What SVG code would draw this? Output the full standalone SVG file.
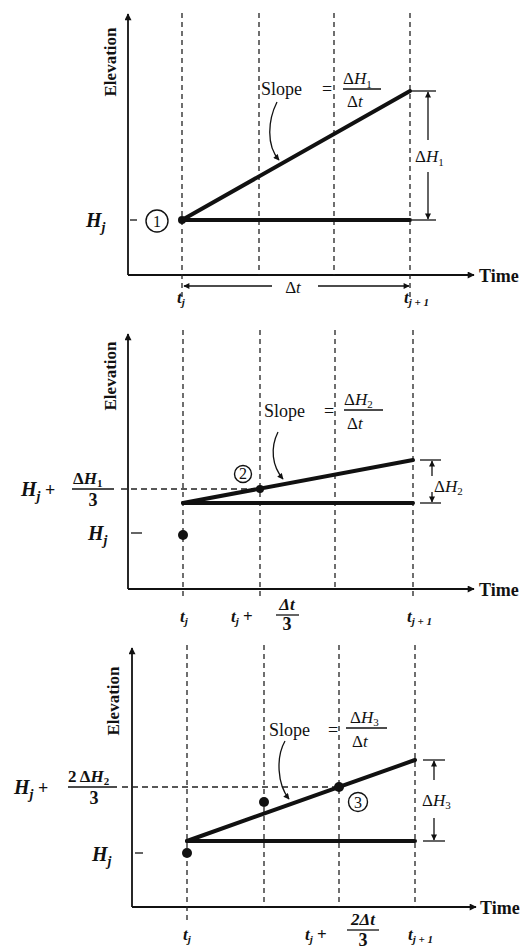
<svg xmlns="http://www.w3.org/2000/svg" width="526" height="951" viewBox="0 0 526 951">
<style>
.ax{stroke:#111;stroke-width:1.8;fill:none}
.dv{stroke:#222;stroke-width:1.3;stroke-dasharray:5,4;fill:none}
.dh{stroke:#222;stroke-width:1.3;stroke-dasharray:6,4;fill:none}
.thk{stroke:#111;stroke-width:4;fill:none;stroke-linecap:round}
.thn{stroke:#111;stroke-width:1.3;fill:none}
.i{font-style:italic}
.elev{font-family:"Liberation Serif",serif;font-weight:bold;font-size:17px;fill:#111}
.lbl{font-family:"Liberation Serif",serif;font-weight:bold;font-style:italic;font-size:20px;fill:#111}
.sl{font-family:"Liberation Serif",serif;font-size:18px;fill:#111}
.fr{font-family:"Liberation Serif",serif;font-size:17px;fill:#111}
.tm{font-family:"Liberation Serif",serif;font-weight:bold;font-size:18px;fill:#111}
.tl{font-family:"Liberation Serif",serif;font-style:italic;font-weight:bold;font-size:17px;fill:#111}
.dot{fill:#111}
.cn{fill:none;stroke:#111;stroke-width:1.4}
.cnt{font-family:"Liberation Serif",serif;font-size:16px;fill:#111;text-anchor:middle}
</style>
<defs>
<marker id="ah" viewBox="0 0 10 10" refX="9" refY="5" markerWidth="9" markerHeight="7" orient="auto" markerUnits="userSpaceOnUse"><path d="M0,0 L10,5 L0,10 z" fill="#111"/></marker>
<marker id="as" viewBox="0 0 10 10" refX="9" refY="5" markerWidth="7" markerHeight="6" orient="auto" markerUnits="userSpaceOnUse"><path d="M0,0 L10,5 L0,10 z" fill="#111"/></marker>
</defs>

<!-- Panel 1 -->
<g id="panel1">
  <g id="p1-axes">
    <line class="ax" x1="128" y1="275" x2="128" y2="14" marker-end="url(#ah)"/>
    <line class="ax" x1="128" y1="275" x2="474" y2="275" marker-end="url(#ah)"/>
    <text class="elev" transform="translate(116,62) rotate(-90)" text-anchor="middle">Elevation</text>
    <text class="tm" x="479" y="282">Time</text>
  </g>
  <g id="p1-grid">
    <line class="dv" x1="182" y1="13" x2="182" y2="300"/>
    <line class="dv" x1="259" y1="13" x2="259" y2="275"/>
    <line class="dv" x1="334" y1="13" x2="334" y2="275"/>
    <line class="dv" x1="410" y1="13" x2="410" y2="300"/>
  </g>
  <g id="p1-lines">
    <line class="thk" x1="182" y1="220" x2="410" y2="220"/>
    <line class="thk" x1="182" y1="220" x2="410" y2="91"/>
    <circle class="dot" cx="182" cy="220" r="4"/>
  </g>
  <g id="p1-point1">
    <line class="thn" x1="130" y1="220" x2="137" y2="220"/>
    <text class="lbl" x="86" y="227">H<tspan font-size="14" dy="5">j</tspan></text>
    <circle class="cn" cx="157" cy="221" r="11"/>
    <text class="cnt" x="157" y="227">1</text>
  </g>
  <g id="p1-dim">
    <line class="thn" x1="412" y1="91" x2="436" y2="91"/>
    <line class="thn" x1="412" y1="220" x2="436" y2="220"/>
    <line class="thn" x1="428" y1="140" x2="428" y2="92" marker-end="url(#as)"/>
    <line class="thn" x1="428" y1="172" x2="428" y2="219" marker-end="url(#as)"/>
    <text class="fr" x="415" y="162">Δ<tspan class="i">H</tspan><tspan font-size="11" dy="4">1</tspan></text>
    <line class="thn" x1="272" y1="286" x2="184" y2="286" marker-end="url(#as)"/>
    <line class="thn" x1="318" y1="286" x2="409" y2="286" marker-end="url(#as)"/>
    <text class="fr" x="293" y="293" text-anchor="middle">Δ<tspan class="i">t</tspan></text>
  </g>
  <g id="p1-tlabels">
    <text class="tl" x="177" y="303">t<tspan font-size="11" dy="3">j</tspan></text>
    <text class="tl" x="404" y="303">t<tspan font-size="11" dy="3">j + 1</tspan></text>
  </g>
  <g id="p1-slope">
    <text class="sl" x="261" y="95">Slope</text>
    <text class="sl" x="322" y="95">=</text>
    <text class="fr" x="343" y="84">Δ<tspan class="i">H</tspan><tspan font-size="11" dy="4">1</tspan></text>
    <line class="thn" x1="343" y1="89" x2="381" y2="89"/>
    <text class="fr" x="347" y="107">Δ<tspan class="i">t</tspan></text>
    <path class="thn" d="M277,102 C268,120 266,145 279,160" marker-end="url(#as)"/>
  </g>
</g>

<!-- Panel 2 -->
<g id="panel2">
  <g id="p2-axes">
    <line class="ax" x1="128" y1="589" x2="128" y2="334" marker-end="url(#ah)"/>
    <line class="ax" x1="128" y1="589" x2="474" y2="589" marker-end="url(#ah)"/>
    <text class="elev" transform="translate(116,376) rotate(-90)" text-anchor="middle">Elevation</text>
    <text class="tm" x="479" y="596">Time</text>
  </g>
  <g id="p2-grid">
    <line class="dv" x1="183" y1="330" x2="183" y2="600"/>
    <line class="dv" x1="260" y1="330" x2="260" y2="600"/>
    <line class="dv" x1="335" y1="330" x2="335" y2="589"/>
    <line class="dv" x1="413" y1="330" x2="413" y2="600"/>
    <line class="dh" x1="121" y1="489" x2="258" y2="489"/>
  </g>
  <g id="p2-lines">
    <line class="thk" x1="183" y1="503" x2="413" y2="503"/>
    <line class="thk" x1="183" y1="503" x2="413" y2="460"/>
    <circle class="dot" cx="260" cy="489" r="4"/>
    <circle class="dot" cx="183" cy="535" r="5"/>
  </g>
  <g id="p2-point2">
    <circle class="cn" cx="243" cy="474" r="8.5"/>
    <text class="cnt" x="243" y="479" font-size="14">2</text>
  </g>
  <g id="p2-ylabels">
    <text class="lbl" x="21" y="496">H<tspan font-size="14" dy="5">j</tspan><tspan dy="-5" font-style="normal" font-size="18"> +</tspan></text>
    <text class="fr" x="73" y="484" font-weight="bold">Δ<tspan class="i">H</tspan><tspan font-size="11" dy="3">1</tspan></text>
    <line class="thn" x1="72" y1="489" x2="114" y2="489" stroke-width="1.6"/>
    <text class="tm" x="93" y="506" text-anchor="middle" font-size="16">3</text>
    <line class="thn" x1="131" y1="533" x2="142" y2="533"/>
    <text class="lbl" x="88" y="540">H<tspan font-size="14" dy="5">j</tspan></text>
  </g>
  <g id="p2-dim">
    <line class="thn" x1="420" y1="460" x2="441" y2="460"/>
    <line class="thn" x1="420" y1="503" x2="441" y2="503"/>
    <line class="thn" x1="432" y1="476" x2="432" y2="461" marker-end="url(#as)"/>
    <line class="thn" x1="432" y1="492" x2="432" y2="502" marker-end="url(#as)"/>
    <text class="fr" x="434" y="492">Δ<tspan class="i">H</tspan><tspan font-size="11" dy="3">2</tspan></text>
  </g>
  <g id="p2-tlabels">
    <text class="tl" x="180" y="622">t<tspan font-size="11" dy="3">j</tspan></text>
    <text class="tl" x="231" y="622">t<tspan font-size="11" dy="3">j</tspan><tspan dy="-3" font-style="normal"> +</tspan></text>
    <text class="tl" x="287" y="610" text-anchor="middle" font-style="normal" font-size="15">Δ<tspan font-style="italic">t</tspan></text>
    <line class="thn" x1="276" y1="615" x2="299" y2="615" stroke-width="1.6"/>
    <text class="tm" x="287" y="630" text-anchor="middle" font-size="13">3</text>
    <text class="tl" x="407" y="622">t<tspan font-size="11" dy="3">j + 1</tspan></text>
  </g>
  <g id="p2-slope">
    <text class="sl" x="264" y="417">Slope</text>
    <text class="sl" x="324" y="417">=</text>
    <text class="fr" x="344" y="405">Δ<tspan class="i">H</tspan><tspan font-size="11" dy="3">2</tspan></text>
    <line class="thn" x1="344" y1="410" x2="383" y2="410"/>
    <text class="fr" x="347" y="429">Δ<tspan class="i">t</tspan></text>
    <path class="thn" d="M278,432 C270,448 272,466 283,479" marker-end="url(#as)"/>
  </g>
</g>

<!-- Panel 3 -->
<g id="panel3">
  <g id="p3-axes">
    <line class="ax" x1="132" y1="907" x2="132" y2="648" marker-end="url(#ah)"/>
    <line class="ax" x1="132" y1="907" x2="476" y2="907" marker-end="url(#ah)"/>
    <text class="elev" transform="translate(119,701) rotate(-90)" text-anchor="middle">Elevation</text>
    <text class="tm" x="480" y="914">Time</text>
  </g>
  <g id="p3-grid">
    <line class="dv" x1="187" y1="645" x2="187" y2="920"/>
    <line class="dv" x1="264" y1="645" x2="264" y2="907"/>
    <line class="dv" x1="339" y1="645" x2="339" y2="907"/>
    <line class="dv" x1="415" y1="645" x2="415" y2="907"/>
    <line class="dh" x1="122" y1="787" x2="337" y2="787"/>
  </g>
  <g id="p3-lines">
    <line class="thk" x1="187" y1="841" x2="415" y2="841"/>
    <line class="thk" x1="187" y1="841" x2="415" y2="760"/>
    <circle class="dot" cx="339" cy="787" r="5"/>
    <circle class="dot" cx="264" cy="802" r="5"/>
    <circle class="dot" cx="187" cy="853" r="5"/>
  </g>
  <g id="p3-point3">
    <circle class="cn" cx="358" cy="802" r="9.5"/>
    <text class="cnt" x="358" y="807.5" font-size="15">3</text>
  </g>
  <g id="p3-ylabels">
    <text class="lbl" x="14" y="794">H<tspan font-size="14" dy="5">j</tspan><tspan dy="-5" font-style="normal" font-size="18"> +</tspan></text>
    <text class="fr" x="68" y="782" font-weight="bold">2 Δ<tspan class="i">H</tspan><tspan font-size="11" dy="3">2</tspan></text>
    <line class="thn" x1="68" y1="787" x2="117" y2="787" stroke-width="1.6"/>
    <text class="tm" x="94" y="804" text-anchor="middle" font-size="16">3</text>
    <line class="thn" x1="135" y1="853" x2="143" y2="853"/>
    <text class="lbl" x="92" y="861">H<tspan font-size="14" dy="5">j</tspan></text>
  </g>
  <g id="p3-dim">
    <line class="thn" x1="423" y1="760" x2="445" y2="760"/>
    <line class="thn" x1="423" y1="841" x2="445" y2="841"/>
    <line class="thn" x1="434" y1="780" x2="434" y2="761" marker-end="url(#as)"/>
    <line class="thn" x1="434" y1="818" x2="434" y2="840" marker-end="url(#as)"/>
    <text class="fr" x="422" y="806">Δ<tspan class="i">H</tspan><tspan font-size="11" dy="3">3</tspan></text>
  </g>
  <g id="p3-tlabels">
    <text class="tl" x="183" y="940">t<tspan font-size="11" dy="3">j</tspan></text>
    <text class="tl" x="305" y="940">t<tspan font-size="11" dy="3">j</tspan><tspan dy="-3" font-style="normal"> +</tspan></text>
    <text class="tl" x="363" y="925" text-anchor="middle" font-style="normal" font-size="13">2Δ<tspan font-style="italic">t</tspan></text>
    <line class="thn" x1="347" y1="930" x2="379" y2="930" stroke-width="1.6"/>
    <text class="tm" x="363" y="946" text-anchor="middle" font-size="11">3</text>
    <text class="tl" x="408" y="940">t<tspan font-size="11" dy="3">j + 1</tspan></text>
  </g>
  <g id="p3-slope">
    <text class="sl" x="269" y="736">Slope</text>
    <text class="sl" x="328" y="736">=</text>
    <text class="fr" x="350" y="723">Δ<tspan class="i">H</tspan><tspan font-size="11" dy="3">3</tspan></text>
    <line class="thn" x1="346" y1="728" x2="387" y2="728"/>
    <text class="fr" x="352" y="747">Δ<tspan class="i">t</tspan></text>
    <path class="thn" d="M285,741 C276,757 277,784 289,799" marker-end="url(#as)"/>
  </g>
</g>
</svg>
